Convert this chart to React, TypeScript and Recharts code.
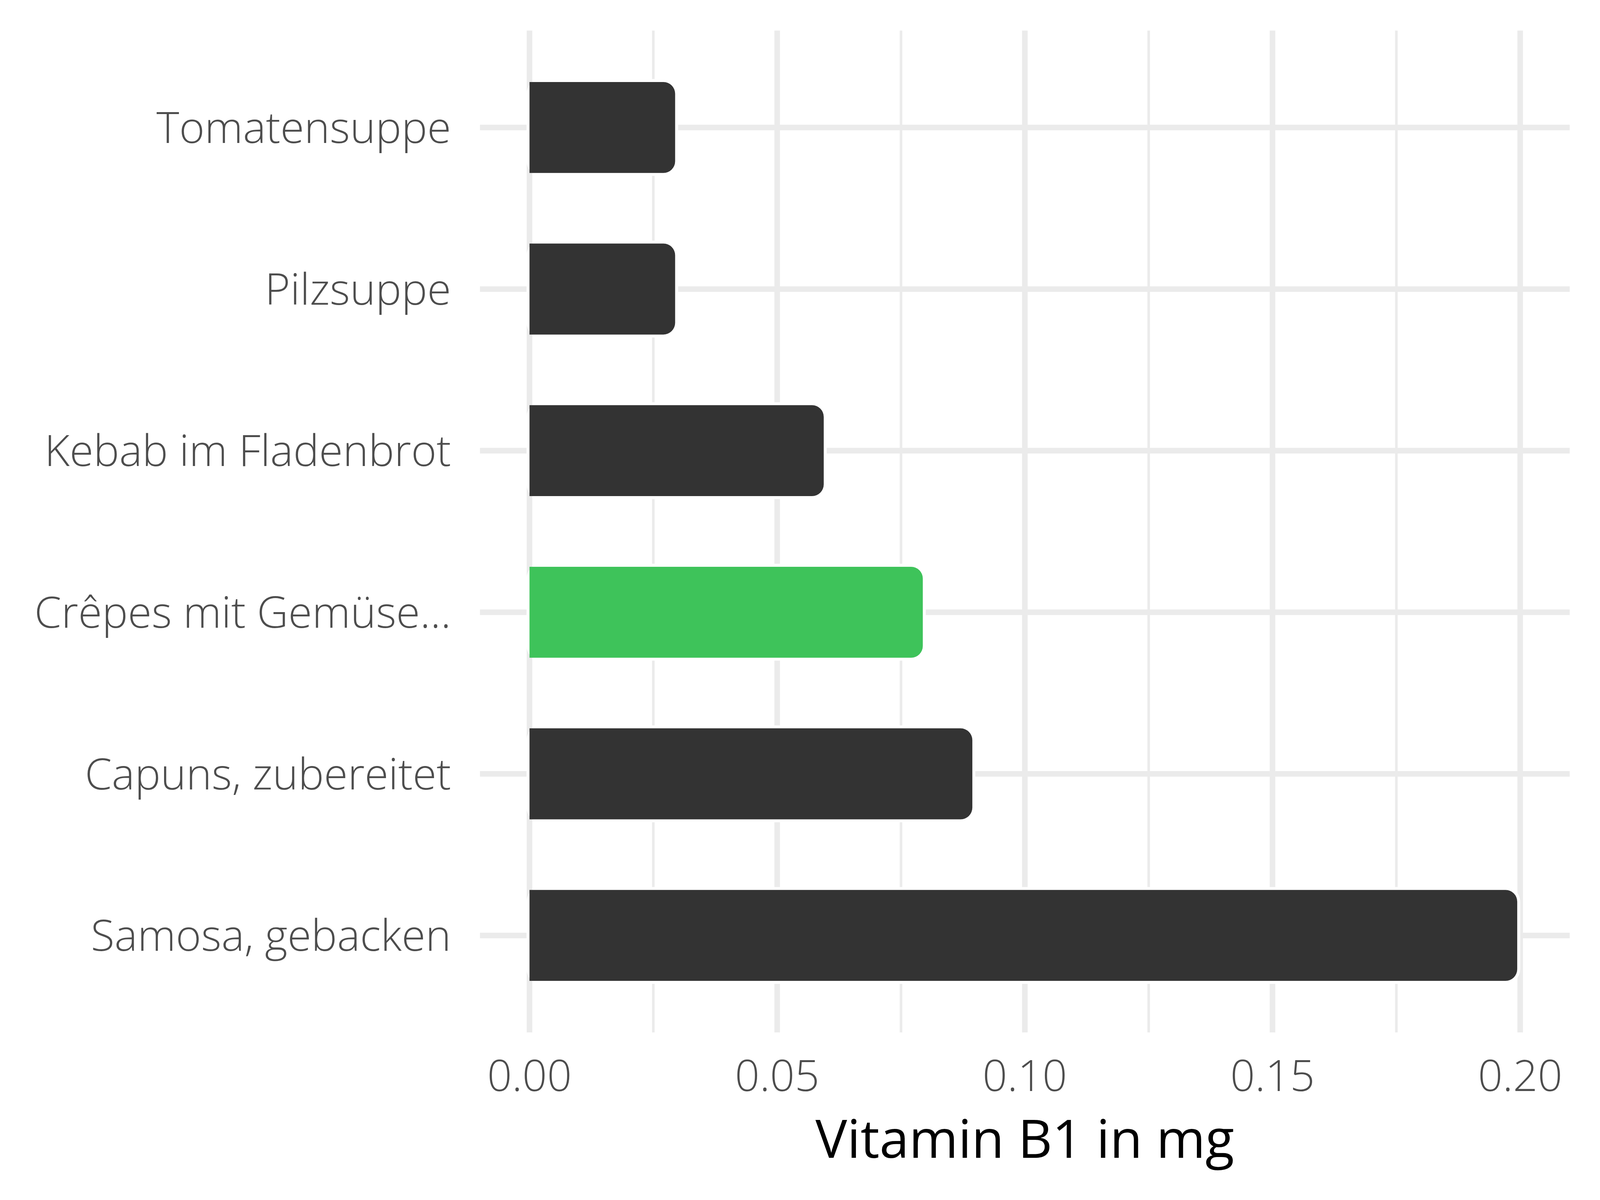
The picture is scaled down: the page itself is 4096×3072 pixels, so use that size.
import React from 'react';
import { BarChart, Bar, XAxis, YAxis, CartesianGrid, Cell, Label } from 'recharts';

const categories = [
  'Tomatensuppe',
  'Pilzsuppe',
  'Kebab im Fladenbrot',
  'Crêpes mit Gemüse...',
  'Capuns, zubereitet',
  'Samosa, gebacken',
];
const values = [0.03, 0.03, 0.06, 0.08, 0.09, 0.2];
const barColors = ['#333333', '#333333', '#333333', '#3EC35A', '#333333', '#333333'];
const xMajorTicks = [0, 0.05, 0.1, 0.15, 0.2];
const xMinorTicks = [0.025, 0.075, 0.125, 0.175];
const xTitle = 'Vitamin B1 in mg';

const data = categories.map((name, i) => ({ name, value: values[i] }));
const xAllTicks = [...xMajorTicks, ...xMinorTicks].sort((a, b) => a - b);
const isMajor = (v: number) => xMajorTicks.some((t) => Math.abs(t - v) < 1e-9);

const FONT = '"Open Sans", "Noto Sans", sans-serif';
const GRID = '#EBEBEB';

const BarShape = (props: any) => {
  const { x, y, width, height, fill } = props;
  const s = 7.6;
  const r = 30;
  const R = r + s;
  const wx0 = x - s;
  const wx1 = x + width;
  const wy0 = y;
  const wy1 = y + height;
  const white = `M${wx0 + R},${wy0} L${wx1 - R},${wy0} A${R},${R} 0 0 1 ${wx1},${wy0 + R} L${wx1},${wy1 - R} A${R},${R} 0 0 1 ${wx1 - R},${wy1} L${wx0 + R},${wy1} A${R},${R} 0 0 1 ${wx0},${wy1 - R} L${wx0},${wy0 + R} A${R},${R} 0 0 1 ${wx0 + R},${wy0} Z`;
  const fx0 = x;
  const fx1 = x + width - s;
  const fy0 = y + s;
  const fy1 = y + height - s;
  const rr = Math.min(r, (fx1 - fx0) / 2);
  const inner = `M${fx0},${fy0} L${fx1 - rr},${fy0} A${rr},${rr} 0 0 1 ${fx1},${fy0 + rr} L${fx1},${fy1 - rr} A${rr},${rr} 0 0 1 ${fx1 - rr},${fy1} L${fx0},${fy1} Z`;
  return (
    <g>
      <path d={white} fill="#FFFFFF" />
      <path d={inner} fill={fill} />
    </g>
  );
};

const YTick = (props: any) => {
  const { x, y, payload } = props;
  return (
    <text x={x - 74} y={y} dy={39.7} textAnchor="end" fill="#4D4D4D" fontSize={111} fontFamily={FONT} fontWeight={300}>
      {payload.value}
    </text>
  );
};

const XTick = (props: any) => {
  const { x, y, payload } = props;
  if (!isMajor(Number(payload.value))) return <g />;
  return (
    <text x={x} y={y} dy={150} textAnchor="middle" fill="#4D4D4D" fontSize={111} fontFamily={FONT} fontWeight={300}>
      {Number(payload.value).toFixed(2)}
    </text>
  );
};

const VLine = (props: any) => {
  const { x1, y1, x2, y2, index } = props;
  const major = index % 2 === 0;
  return <line x1={x1} y1={y1} x2={x2} y2={y2} stroke={GRID} strokeWidth={major ? 14.3 : 6.5} fill="none" />;
};

const HLine = (props: any) => {
  const { x1, y1, x2, y2 } = props;
  return <line x1={x1} y1={y1} x2={x2} y2={y2} stroke={GRID} strokeWidth={14.3} fill="none" />;
};

const TitleContent = (props: any) => {
  const vb = props.viewBox || {};
  return (
    <text x={vb.x + vb.width / 2} y={vb.y + 320.6} textAnchor="middle" fill="#000000" fontSize={136} fontFamily={FONT} fontWeight={400}>
      {xTitle}
    </text>
  );
};

export default function App() {
  return (
    <div style={{ position: 'absolute', left: 0, top: 0, width: 4096, height: 3072, background: '#FFFFFF' }}>
      <BarChart
        width={4096}
        height={3072}
        data={data}
        layout="vertical"
        margin={{ top: 78.2, right: 77.5, bottom: 0, left: 0 }}
        barCategoryGap="20%"
      >
        <CartesianGrid stroke={GRID} strokeWidth={14.3} syncWithTicks vertical={<VLine />} horizontal={<HLine />} />
        <XAxis
          type="number"
          domain={[-0.01, 0.21]}
          ticks={xAllTicks}
          interval={0}
          allowDataOverflow
          axisLine={false}
          tickLine={false}
          tickSize={0}
          tickMargin={0}
          height={429}
          tick={<XTick />}
          label={<Label content={<TitleContent />} />}
        />
        <YAxis
          type="category"
          dataKey="name"
          width={1228.7}
          axisLine={false}
          tickLine={false}
          tickSize={0}
          tickMargin={0}
          interval={0}
          padding={{ top: 41.37, bottom: 41.37 }}
          tick={<YTick />}
        />
        <Bar dataKey="value" isAnimationActive={false} shape={<BarShape />}>
          {data.map((d, i) => (
            <Cell key={d.name} fill={barColors[i]} />
          ))}
        </Bar>
      </BarChart>
    </div>
  );
}
